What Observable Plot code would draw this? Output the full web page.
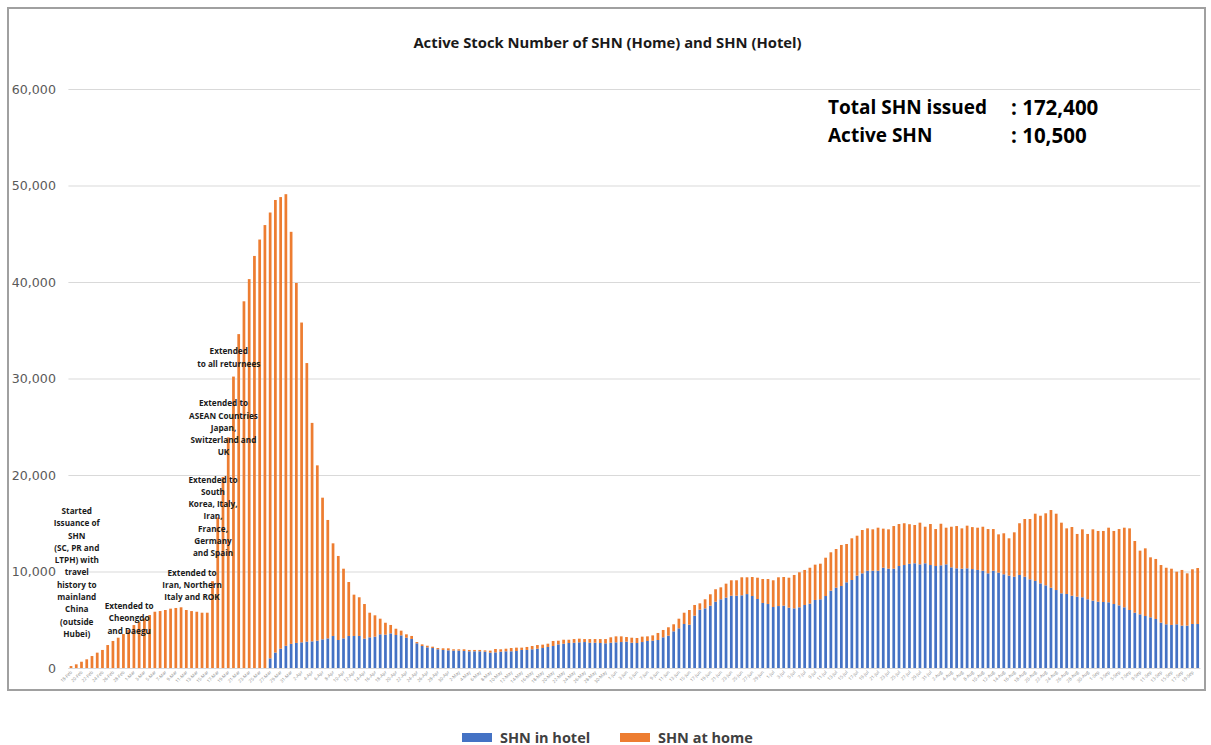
<!DOCTYPE html>
<html>
<head>
<meta charset="utf-8">
<script src="https://cdn.jsdelivr.net/npm/d3@7"></script>
<script src="https://cdn.jsdelivr.net/npm/@observablehq/plot@0.6"></script>
<style>
  html, body { margin: 0; padding: 0; background: #fff; }
  #wrap { position: relative; width: 1211px; height: 745px; font-family: "Open Sans", sans-serif; }
  #frame { position: absolute; left: 7px; top: 7px; width: 1199px; height: 684px; border: 2px solid #a0a0a0; box-sizing: border-box; }
  #chart { position: absolute; left: 0; top: 0; }
  #title { position: absolute; top: 32px; left: 0; width: 1215px; text-align: center; font-weight: 700; font-size: 14.8px; color: #1a1a1a; }
  #stats { position: absolute; left: 828px; top: 93px; font-weight: 700; font-size: 19px; color: #000; line-height: 28px; }
  #stats div { white-space: nowrap; }
  #stats span.v { position: absolute; left: 183px; font-size: 20.5px; }
  #legend { position: absolute; top: 728px; left: 0; width: 1211px; height: 18px; }
  .sw { position: absolute; top: 5px; width: 30px; height: 9px; }
  .lt { position: absolute; top: 0; font-size: 14.5px; font-weight: 700; color: #404040; }
</style>
</head>
<body>
<div id="wrap">
  <div id="frame"></div>
  <div id="chart"></div>
  <div id="title">Active Stock Number of SHN (Home) and SHN (Hotel)</div>
  <div id="stats"></div>
  <div id="legend"></div>
</div>
<script>
// ---- data ----
const startDate = "2020-02-18";
const nDays = 216;
const seriesNames = ["SHN in hotel", "SHN at home"];
const seriesColors = ["#4472C4", "#ED7D31"];
const yTicks = [0, 10000, 20000, 30000, 40000, 50000, 60000];

// total active SHN (hotel + home) per day
const totalActive = [
  200, 380, 650, 900, 1240, 1590, 1870, 2380, 2800, 3140, 3520, 3940, 4450, 4800, 5150, 5490, 5830, 5900, 6010, 6150,
  6220, 6290, 6010, 5900, 5830, 5730, 5730, 9000, 15600, 19800, 23900, 30200, 34600, 38000, 40300, 42700, 44400, 45900, 47200, 48500,
  48800, 49100, 45200, 39900, 35800, 31600, 25400, 21000, 17650, 15340, 12920, 11610, 10290, 8910, 7600, 7330, 6630, 5730, 5460, 5110,
  4690, 4460, 4070, 3870, 3490, 3320, 2690, 2450, 2310, 2210, 2070, 2040, 2040, 1940, 1940, 1940, 1870, 1870, 1870, 1830,
  1800, 1970, 1940, 2000, 2070, 2110, 2110, 2180, 2280, 2380, 2420, 2520, 2800, 2830, 2930, 2930, 3000, 3040, 3000, 3000,
  3000, 3000, 3000, 3180, 3280, 3280, 3210, 3140, 3110, 3250, 3280, 3380, 3630, 3940, 4220, 4530, 5110, 5730, 6010, 6530,
  6700, 7120, 7640, 8160, 8360, 8740, 9090, 9090, 9400, 9400, 9430, 9360, 9220, 9220, 9090, 9400, 9430, 9360, 9640, 9920,
  10160, 10390, 10710, 10810, 11430, 11990, 12330, 12750, 12850, 13440, 13710, 14300, 14470, 14370, 14540, 14440, 14370, 14710, 14920, 15000,
  14900, 14820, 15060, 14640, 14920, 14400, 14950, 14540, 14640, 14710, 14470, 14750, 14600, 14540, 14640, 14400, 14400, 13850, 13960, 13440,
  14060, 15000, 15440, 15440, 15990, 15780, 16030, 16370, 15990, 15060, 14470, 14610, 13890, 14370, 13890, 14370, 14200, 14200, 14540, 14200,
  14400, 14540, 14470, 13160, 12160, 12400, 11470, 11300, 10670, 10390, 10290, 9980, 10160, 9810, 10230, 10360
];

// SHN served in hotels per day
const hotelActive = [
  0, 0, 0, 0, 0, 0, 0, 0, 0, 0, 0, 0, 0, 0, 0, 0, 0, 0, 0, 0,
  0, 0, 0, 0, 0, 0, 0, 0, 0, 0, 0, 0, 0, 0, 0, 0, 0, 0, 1000, 1600,
  2000, 2300, 2500, 2600, 2660, 2730, 2760, 2830, 2970, 3070, 3320, 2900, 3070, 3320, 3320, 3320, 3040, 3180, 3250, 3490,
  3450, 3590, 3420, 3380, 3140, 3010, 2560, 2280, 2140, 2070, 1940, 1870, 1830, 1800, 1800, 1760, 1730, 1730, 1730, 1690,
  1590, 1620, 1690, 1730, 1730, 1760, 1870, 1870, 1940, 2000, 2070, 2180, 2280, 2450, 2520, 2590, 2620, 2660, 2690, 2620,
  2620, 2590, 2560, 2620, 2660, 2690, 2730, 2620, 2590, 2690, 2800, 2830, 2900, 3180, 3350, 3800, 4110, 4560, 4490, 5420,
  6040, 6180, 6460, 6870, 7120, 7290, 7490, 7490, 7530, 7660, 7460, 7150, 6740, 6630, 6320, 6420, 6460, 6250, 6180, 6290,
  6530, 6670, 7050, 7120, 7460, 8010, 8320, 8500, 8880, 9120, 9570, 9810, 10080, 10080, 10080, 10390, 10290, 10290, 10570, 10670,
  10800, 10850, 10740, 10850, 10670, 10570, 10640, 10740, 10430, 10330, 10290, 10330, 10250, 10160, 10080, 9810, 10080, 9880, 9710, 9570,
  9460, 9640, 9460, 9190, 9020, 8770, 8570, 8320, 8080, 7740, 7670, 7490, 7390, 7330, 7120, 6980, 6870, 6840, 6810, 6630,
  6490, 6290, 6010, 5730, 5560, 5390, 5250, 5080, 4700, 4530, 4460, 4530, 4390, 4390, 4560, 4560
];

// annotations: category index, y value, text
const noteIndex = [1, 11, 23, 27, 29, 30];
const noteY = [10050, 5290, 8760, 15850, 25030, 32330];
const noteText = [
  "Started\nIssuance of\nSHN\n(SC, PR and\nLTPH) with\ntravel\nhistory to\nmainland\nChina\n(outside\nHubei)",
  "Extended to\nCheongdo\nand Daegu",
  "Extended to\nIran, Northern\nItaly and ROK",
  "Extended to\nSouth\nKorea, Italy,\nIran,\nFrance,\nGermany\nand Spain",
  "Extended to\nASEAN Countries\nJapan,\nSwitzerland and\nUK",
  "Extended\nto all returnees"
];

const statLabels = ["Total SHN issued", "Active SHN"];
const statValues = [": 172,400", ": 10,500"];

// ---- build ----
const fmtDate = d3.utcFormat("%-d-%b");
const start = new Date(startDate + "T00:00:00Z");
const dates = d3.range(nDays).map(i => fmtDate(d3.utcDay.offset(start, i)));

const rows = [];
dates.forEach((d, i) => {
  rows.push({date: d, series: seriesNames[0], value: hotelActive[i]});
  rows.push({date: d, series: seriesNames[1], value: totalActive[i] - hotelActive[i]});
});

const notes = noteText.map((t, k) => ({date: dates[noteIndex[k]], y: noteY[k], text: t}));

const chart = Plot.plot({
  width: 1211,
  height: 700,
  marginTop: 89,
  marginBottom: 32,
  marginLeft: 68.4,
  marginRight: 10.7,
  style: {fontFamily: "'Open Sans', sans-serif", background: "transparent", overflow: "visible"},
  x: {domain: dates, paddingInner: 0.48, paddingOuter: 0.24, align: 0.5},
  y: {domain: [0, 60000]},
  color: {domain: seriesNames, range: seriesColors},
  marks: [
    Plot.gridY(yTicks, {stroke: "#d9d9d9", strokeOpacity: 1, strokeWidth: 1.2}),
    Plot.barY(rows, {x: "date", y: "value", fill: "series"}),
    Plot.ruleY([0], {stroke: "#d9d9d9", strokeWidth: 1.2}),
    Plot.axisY(yTicks, {tickFormat: d3.format(","), tickSize: 0, tickPadding: 13, fontSize: 12.6, fill: "#595959", label: null, fontFamily: "'DejaVu Sans', sans-serif"}),
    Plot.axisX(dates.filter((d, i) => i % 2 === 0), {tickRotate: -45, tickSize: 0, tickPadding: 3, fontSize: 4.5, fill: "#8c8c8c", label: null}),
    Plot.text(notes, {x: "date", y: "y", text: "text", fontSize: 8.2, fontWeight: "bold", fill: "#1a1a1a", lineHeight: 1.5, lineAnchor: "middle", textAnchor: "middle"})
  ]
});
document.getElementById("chart").appendChild(chart);

// stats box
const stats = document.getElementById("stats");
statLabels.forEach((l, k) => {
  const row = document.createElement("div");
  row.innerHTML = `<span>${l}</span><span class="v">${statValues[k]}</span>`;
  stats.appendChild(row);
});

// legend
const legend = document.getElementById("legend");
const legX = [462, 620];
seriesNames.forEach((n, k) => {
  const sw = document.createElement("div");
  sw.className = "sw"; sw.style.left = legX[k] + "px"; sw.style.background = seriesColors[k];
  const lt = document.createElement("div");
  lt.className = "lt"; lt.style.left = (legX[k] + 38) + "px"; lt.textContent = n;
  legend.appendChild(sw); legend.appendChild(lt);
});
</script>
</body>
</html>
